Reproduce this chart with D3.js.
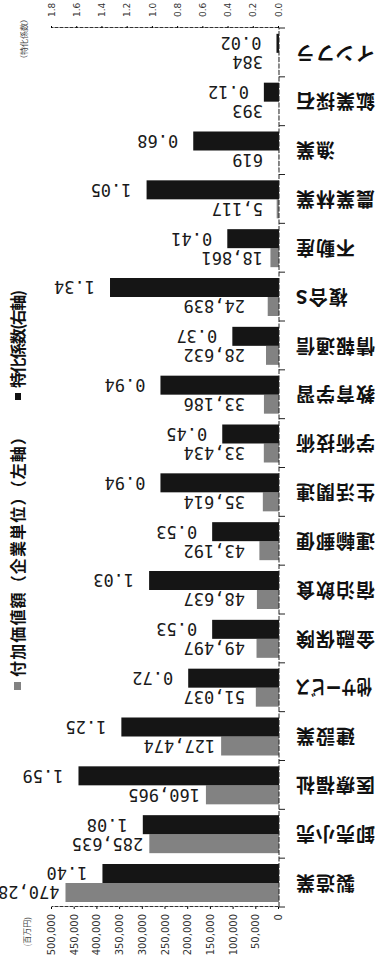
<!DOCTYPE html>
<html>
<head>
<meta charset="utf-8">
<script src="https://cdn.jsdelivr.net/npm/d3@7"></script>
<style>
    body { margin: 0; background: #fff; }
    svg { display: block; }
    .cat { font-family: "Noto Sans CJK JP"; font-weight: bold; font-size: 19px; fill: #111; }
    .num { font-family: "DejaVu Sans Mono"; font-size: 17px; fill: #1a1a1a; }
    .tick text { font-family: "DejaVu Sans"; fill: #333; }
    .legend { font-family: "Noto Sans CJK JP"; font-weight: bold; font-size: 16px; fill: #111; }
</style>
</head>
<body>
<div id="chart"></div>
<script>
// industries, top to bottom when the chart is upright
const industries = ["製造業", "卸売小売", "医療福祉", "建設業", "他サービス", "金融保険", "宿泊飲食",
    "運輸郵便", "生活関連", "学術技術", "教育学習", "情報通信", "複合S", "不動産", "農業林業",
    "漁業", "鉱業採石", "インフラ"];

// 付加価値額 (企業単位), 百万円 - left axis
const valueAdded = [470283, 285635, 160965, 127474, 51037, 49497, 48637, 43192, 35614, 33434,
    33186, 28632, 24839, 18861, 5117, 619, 393, 384];

// 特化係数 - right axis
const specialization = [1.40, 1.08, 1.59, 1.25, 0.72, 0.53, 1.03, 0.53, 0.94, 0.45, 0.94, 0.37,
    1.34, 0.41, 1.05, 0.68, 0.12, 0.02];

const valueTicks = [0, 50000, 100000, 150000, 200000, 250000, 300000, 350000, 400000, 450000, 500000];
const coefTicks = [0, 0.2, 0.4, 0.6, 0.8, 1.0, 1.2, 1.4, 1.6, 1.8];

const width = 383, height = 969;
const margin = {top: 62, left: 104};
const plotW = 227, plotH = 879;

const svg = d3.select("#chart").append("svg")
    .attr("width", width)
    .attr("height", height);

// the scanned page is upside down, so draw the chart upright and turn the whole thing over
const g = svg.append("g")
    .attr("transform", `rotate(180, ${width / 2}, ${height / 2})`);

const data = industries.map((name, i) => ({name: name, value: valueAdded[i], coef: specialization[i]}));

const x = d3.scaleLinear()
    .domain([0, 500000])
    .range([margin.left, margin.left + plotW]);

const xk = d3.scaleLinear()
    .domain([0, 1.8])
    .range([margin.left, margin.left + plotW]);

const y = d3.scaleBand()
    .domain(industries)
    .range([margin.top, margin.top + plotH]);

const ySub = d3.scaleBand()
    .domain(["value", "coef"])
    .range([5, 43]);

// bars
g.selectAll(".bar-value").data(data).enter().append("rect")
    .attr("class", "bar-value")
    .attr("x", x(0))
    .attr("y", d => y(d.name) + ySub("value"))
    .attr("width", d => x(d.value) - x(0))
    .attr("height", ySub.bandwidth())
    .attr("fill", "#828282");

g.selectAll(".bar-coef").data(data).enter().append("rect")
    .attr("class", "bar-coef")
    .attr("x", xk(0))
    .attr("y", d => y(d.name) + ySub("coef"))
    .attr("width", d => xk(d.coef) - xk(0))
    .attr("height", ySub.bandwidth())
    .attr("fill", "#151515");

// value labels
g.selectAll(".lbl-value").data(data).enter().append("text")
    .attr("class", "num")
    .attr("x", d => Math.max(x(d.value) + 6, margin.left + (d.value < 20000 ? 16 : 34)))
    .attr("y", d => y(d.name) + ySub("value") + ySub.bandwidth() / 2)
    .attr("dy", "0.36em")
    .text(d => d3.format(",")(d.value));

g.selectAll(".lbl-coef").data(data).enter().append("text")
    .attr("class", "num")
    .attr("x", d => xk(d.coef) + 15)
    .attr("y", d => y(d.name) + ySub("coef") + ySub.bandwidth() / 2)
    .attr("dy", "0.36em")
    .text(d => d3.format(".2f")(d.coef));

// category labels, squeezed when they would run past the page edge
g.selectAll(".cat").data(industries).enter().append("text")
    .attr("class", "cat")
    .attr("x", 88)
    .attr("y", d => y(d) + y.bandwidth() / 2)
    .attr("dy", "0.36em")
    .attr("text-anchor", "end")
    .style("letter-spacing", "1px")
    .text(d => d)
    .each(function () {
        if (this.getComputedTextLength() > 84) {
            d3.select(this)
                .style("letter-spacing", "0px")
                .attr("textLength", 77)
                .attr("lengthAdjust", "spacingAndGlyphs");
        }
    });

// category axis with ticks between bands
g.append("line")
    .attr("x1", margin.left).attr("x2", margin.left)
    .attr("y1", margin.top).attr("y2", margin.top + plotH)
    .attr("stroke", "#222")
    .attr("stroke-dasharray", "5,1.5");

g.selectAll(".band-tick").data(industries.concat(["end"])).enter().append("line")
    .attr("x1", margin.left - 6).attr("x2", margin.left)
    .attr("y1", (d, i) => margin.top + i * y.step())
    .attr("y2", (d, i) => margin.top + i * y.step())
    .attr("stroke", "#222");

// value axis (top when upright)
const axisValue = g.append("g")
    .attr("transform", `translate(0, ${margin.top})`)
    .call(d3.axisTop(x).tickValues(valueTicks).tickSize(2).tickSizeOuter(0).tickFormat(d3.format(",")));

axisValue.selectAll(".tick text")
    .attr("x", -7).attr("y", 0).attr("dy", "0.35em")
    .attr("transform", "rotate(90)")
    .style("text-anchor", "end")
    .style("font-size", "10px");

// coefficient axis (bottom when upright)
const axisCoef = g.append("g")
    .attr("transform", `translate(0, ${margin.top + plotH})`)
    .call(d3.axisBottom(xk).tickValues(coefTicks).tickSize(2).tickSizeOuter(0).tickFormat(d3.format(".1f")));

axisCoef.selectAll(".tick text")
    .attr("x", 11).attr("y", 0).attr("dy", "0.35em")
    .attr("transform", "rotate(90)")
    .style("text-anchor", "start")
    .style("font-size", "9px");

g.selectAll(".domain").attr("stroke", "#333").attr("stroke-dasharray", "4,1");

// axis units
g.append("text")
    .attr("transform", `translate(356, 52) rotate(90)`)
    .attr("text-anchor", "end")
    .attr("dy", "0.35em")
    .style("font-family", "Noto Sans CJK JP")
    .style("font-size", "8px")
    .attr("fill", "#444")
    .text("(百万円)");

g.append("text")
    .attr("transform", `translate(359, 930) rotate(90)`)
    .attr("text-anchor", "middle")
    .attr("dy", "0.35em")
    .style("font-family", "Noto Sans CJK JP")
    .style("font-size", "8px")
    .attr("fill", "#444")
    .text("（特化係数）");

// legend, written down the right edge
g.append("rect")
    .attr("x", 362).attr("y", 279)
    .attr("width", 7).attr("height", 8)
    .attr("fill", "#828282");

g.append("text")
    .attr("class", "legend")
    .attr("transform", `translate(365, 292) rotate(90)`)
    .attr("dy", "0.35em")
    .attr("textLength", 248)
    .attr("lengthAdjust", "spacing")
    .text("付加価値額（企業単位）（左軸）");

g.append("rect")
    .attr("x", 362).attr("y", 569)
    .attr("width", 6).attr("height", 7)
    .attr("fill", "#111");

g.append("text")
    .attr("class", "legend")
    .attr("transform", `translate(365, 581) rotate(90)`)
    .attr("dy", "0.35em")
    .attr("textLength", 98)
    .attr("lengthAdjust", "spacing")
    .text("特化係数(右軸)");
</script>
</body>
</html>
